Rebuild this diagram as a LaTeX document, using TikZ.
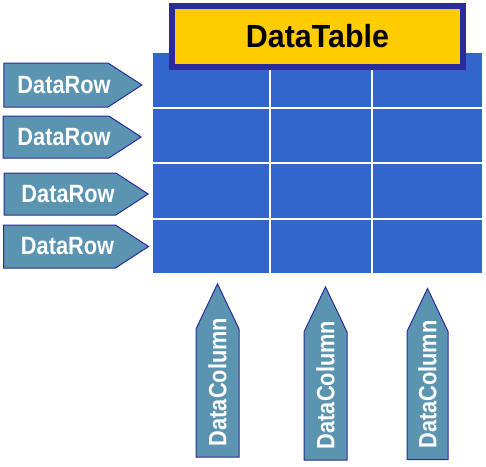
\documentclass[tikz,border=0pt]{standalone}
\usepackage{fontspec}
\setmainfont{Liberation Sans}
\newfontfamily\narrowfont[FakeStretch=0.87]{Liberation Sans}
\newfontfamily\titlefont[FakeStretch=0.95]{Liberation Sans}
\usetikzlibrary{shapes.symbols, positioning}
\definecolor{tableblue}{RGB}{51, 102, 204}
\definecolor{tagblue}{RGB}{91, 148, 177}
\definecolor{edgeblue}{RGB}{43, 43, 155}
\definecolor{titleyellow}{RGB}{255, 204, 0}

\begin{document}
\begin{tikzpicture}[
    x=1pt, y=-1pt,
    tablebody/.style={rectangle, fill=tableblue, inner sep=0pt,
                      minimum width=329pt, minimum height=220pt},
    gridline/.style={white, line width=1.5pt},
    titlebox/.style={rectangle, draw=edgeblue, fill=titleyellow, line width=6pt,
                     minimum width=291pt, minimum height=61pt, inner sep=0pt,
                     font=\titlefont\bfseries\fontsize{32}{32}\selectfont},
    rowtag/.style={signal, signal to=east, signal pointer angle=66,
                   draw=edgeblue, fill=tagblue, line width=1pt, text=white,
                   minimum width=138pt, minimum height=#1, inner sep=0pt,
                   execute at begin node={\hspace*{8pt}},
                   execute at end node={\hspace*{-8pt}},
                   font=\narrowfont\bfseries\fontsize{25}{25}\selectfont},
    rowtag/.default=43pt,
    coltag/.style={signal, signal to=east, signal pointer angle=51, rotate=90,
                   draw=edgeblue, fill=tagblue, line width=1pt, text=white,
                   minimum width=171pt, minimum height=#1, inner sep=0pt,
                   execute at begin node={\hspace*{11pt}},
                   execute at end node={\hspace*{-11pt}},
                   font=\narrowfont\bfseries\fontsize{25}{25}\selectfont},
    coltag/.default=43pt
]
\useasboundingbox (0,0) rectangle (486,466);

% Table cells
\node[tablebody] (grid) at (317.5,163) {};
\foreach \gx in {270,372}
    \draw[gridline] (\gx,53) -- (\gx,273);
\foreach \gy in {108,163,219}
    \draw[gridline] (153,\gy) -- (482,\gy);

% Title
\node[titlebox] (title) at (317.5,36.5) {DataTable};

% Rows
\node[rowtag=44pt] (row1) at (56,85) {DataRow};
\node[rowtag=42pt] (row2) at (56,137) {DataRow};
\node[rowtag=42pt, minimum width=144pt] (row3) at (60,194) {DataRow};
\node[rowtag=43pt, minimum width=145pt] (row4) at (59.5,246.5) {DataRow};

% Columns
\node[coltag] (col1) at (217.5,393) {DataColumn};
\node[coltag] (col2) at (325.5,396) {DataColumn};
\node[coltag=41pt] (col3) at (427.5,395.5) {DataColumn};

\end{tikzpicture}
\end{document}
